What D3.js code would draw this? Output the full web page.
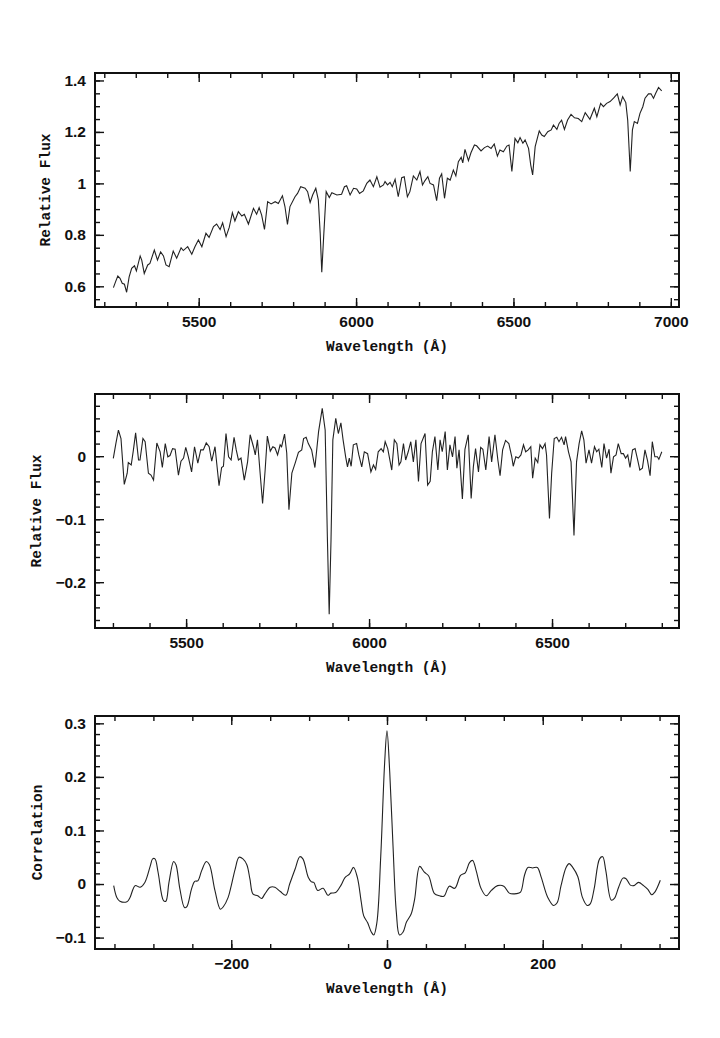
<!DOCTYPE html>
<html>
<head>
<meta charset="utf-8">
<script src="https://cdn.jsdelivr.net/npm/d3@7"></script>
<style>
body { margin: 0; background: #fff; }
.tick text { font-family: "Liberation Sans", Arial, sans-serif; font-weight: bold; font-size: 15.5px; fill: #111; }
.tick line { stroke: #111; stroke-width: 1.4; }
.title { font-family: "Liberation Mono", monospace; font-weight: bold; font-size: 14.5px; fill: #111; }
</style>
</head>
<body>
<svg id="chart" width="720" height="1038"></svg>
<script>
// top panel: observed spectrum
var wave1 = [5229,5236,5243,5250,5257,5264,5271,5279,5287,5296,5302,5314,5319,5327,5338,5345,5359,5369,5379,5388,
  5396,5406,5419,5430,5444,5451,5465,5478,5488,5499,5510,5523,5533,5547,5557,5568,5576,5587,5597,5607,
  5615,5626,5637,5645,5658,5674,5684,5692,5700,5709,5719,5730,5743,5753,5766,5774,5782,5790,5806,5814,
  5824,5838,5846,5854,5862,5872,5880,5886,5891,5897,5905,5915,5923,5939,5954,5963,5970,5981,5992,6002,
  6011,6023,6034,6044,6055,6066,6076,6087,6092,6100,6108,6115,6124,6134,6145,6153,6163,6171,6182,6193,
  6203,6211,6219,6228,6235,6246,6256,6265,6272,6281,6290,6299,6309,6317,6325,6334,6339,6346,6357,6365,
  6376,6383,6397,6408,6418,6429,6439,6449,6457,6468,6479,6486,6495,6505,6514,6521,6530,6537,6548,6555,
  6561,6569,6582,6590,6598,6609,6620,6627,6638,6645,6653,6662,6672,6683,6694,6706,6717,6728,6743,6757,
  6765,6777,6786,6796,6807,6818,6830,6839,6847,6857,6863,6871,6878,6884,6894,6902,6911,6918,6929,6937,
  6945,6952,6961,6971]
var flux1 = [0.595,0.618,0.64,0.631,0.612,0.608,0.577,0.637,0.67,0.68,0.66,0.718,0.702,0.65,0.683,0.689,0.741,0.702,0.734,0.718,
  0.683,0.676,0.737,0.709,0.75,0.739,0.754,0.725,0.754,0.78,0.754,0.806,0.79,0.832,0.842,0.821,0.847,0.793,0.829,0.886,
  0.854,0.89,0.873,0.88,0.842,0.903,0.88,0.906,0.877,0.821,0.929,0.92,0.929,0.922,0.952,0.91,0.841,0.91,0.948,0.961,
  0.987,0.981,0.968,0.926,0.955,0.981,0.936,0.806,0.655,0.793,0.968,0.945,0.964,0.955,0.958,0.987,0.991,0.955,0.981,0.978,
  0.961,0.971,1.0,1.013,0.987,1.026,0.985,0.994,1.007,0.994,1.004,0.987,1.016,0.948,1.022,1.026,0.948,0.968,1.029,1.013,
  1.046,0.994,1.011,1.026,1.0,0.994,0.933,1.02,1.037,0.942,1.02,1.013,1.052,1.029,1.084,1.101,1.08,1.132,1.088,1.119,
  1.149,1.146,1.126,1.139,1.145,1.136,1.153,1.106,1.13,1.123,1.145,1.149,1.046,1.175,1.158,1.178,1.156,1.169,1.136,1.071,
  1.033,1.143,1.204,1.188,1.182,1.201,1.208,1.227,1.21,1.233,1.246,1.21,1.246,1.268,1.255,1.252,1.24,1.275,1.249,1.292,
  1.259,1.311,1.298,1.311,1.318,1.331,1.348,1.305,1.337,1.314,1.246,1.046,1.208,1.24,1.233,1.272,1.298,1.331,1.348,1.348,
  1.331,1.35,1.373,1.36]

// middle panel: continuum-subtracted spectrum
var wave2 = [5301,5308,5315,5322,5331,5339,5342,5350,5356,5362,5370,5374,5382,5388,5397,5404,5411,5420,5429,5435,
  5443,5450,5456,5463,5470,5479,5486,5493,5499,5506,5515,5523,5532,5540,5547,5555,5563,5570,5579,5590,
  5597,5602,5609,5616,5623,5631,5637,5643,5650,5659,5668,5675,5684,5689,5695,5702,5709,5716,5722,5730,
  5737,5743,5750,5757,5761,5769,5775,5781,5789,5798,5807,5816,5821,5828,5834,5843,5852,5862,5872,5880,
  5886,5891,5896,5901,5909,5916,5923,5929,5936,5941,5946,5951,5957,5966,5972,5980,5987,5996,6005,6012,
  6018,6025,6033,6039,6044,6051,6062,6069,6076,6082,6087,6094,6100,6107,6114,6121,6128,6135,6142,6153,
  6160,6167,6173,6180,6188,6194,6200,6208,6214,6221,6228,6235,6240,6246,6255,6262,6271,6279,6285,6291,
  6299,6305,6311,6319,6328,6335,6344,6352,6358,6365,6373,6382,6390,6394,6401,6408,6415,6422,6428,6435,
  6442,6447,6454,6461,6467,6474,6481,6485,6493,6499,6506,6513,6519,6526,6533,6537,6545,6552,6560,6567,
  6574,6581,6587,6593,6601,6608,6616,6622,6628,6636,6642,6649,6656,6661,6668,6675,6681,6689,6695,6701,
  6707,6713,6720,6727,6734,6740,6747,6754,6761,6768,6774,6781,6788,6792,6800]
var flux2 = [-0.0035,0.020,0.0415,0.028,-0.0447,-0.027,-0.010,-0.014,0.010,0.037,-0.006,-0.006,0.028,0.023,-0.027,-0.030,-0.038,0.021,0.007,-0.018,
  0.020,-0.001,0.001,0.012,0.011,-0.030,-0.008,-0.003,0.014,-0.001,-0.025,0.015,-0.011,0.010,0.010,0.021,0.015,-0.008,0.015,-0.047,
  -0.018,-0.016,0.036,-0.001,-0.006,0.030,0.010,-0.006,-0.003,-0.038,-0.009,0.034,0.015,0.002,0.026,-0.025,-0.075,-0.022,0.032,0.008,
  0.015,0.013,0.002,0.018,0.015,0.035,0.005,-0.085,-0.027,-0.011,0.006,0.010,0.028,0.030,0.020,0.010,-0.018,0.039,0.076,0.0415,
  -0.128,-0.251,-0.133,0.026,0.060,0.036,0.053,0.026,-0.001,-0.017,-0.003,-0.016,0.018,0.020,0.002,-0.017,0.007,0.004,-0.025,-0.014,
  -0.021,0.007,0.012,0.007,0.023,0.012,-0.022,0.026,0.020,-0.014,-0.009,0.020,-0.006,0.007,0.023,-0.009,0.026,-0.040,0.020,0.036,
  -0.046,-0.040,0.007,0.031,-0.022,0.026,0.007,0.039,-0.022,0.018,-0.001,0.031,-0.019,0.010,-0.068,0.011,0.034,-0.067,-0.017,0.012,
  -0.025,0.014,0.011,-0.022,0.031,-0.009,0.034,-0.006,-0.031,0.010,0.025,0.020,-0.001,-0.016,-0.001,-0.003,0.002,0.018,0.007,0.010,
  0.015,-0.035,-0.003,-0.010,0.018,0.012,0.020,0.002,-0.099,-0.027,0.028,0.030,0.023,0.030,0.018,0.031,0.007,-0.009,-0.126,-0.009,
  0.020,0.040,0.026,-0.011,0.010,-0.011,0.015,0.007,0.011,-0.018,0.020,-0.003,0.011,-0.027,-0.001,0.002,0.020,0.004,0.004,-0.003,
  0.002,-0.018,0.010,0.012,-0.006,-0.022,-0.019,0.010,-0.007,-0.031,0.023,-0.001,-0.001,-0.005,0.007]

// bottom panel: cross-correlation
var lag3 = [-351,-347,-343,-334,-330,-323.5,-317,-311,-304,-301,-298,-294,-287,-284,-280,-274,-271,-266,-260,-257,
  -251,-247,-243,-238,-232,-228,-221,-214,-210,-204,-200,-195,-190,-185,-180,-176,-172,-166,-161,-157,
  -150,-144,-137,-130,-125,-118,-112,-108,-101,-97,-94,-89,-82,-76,-72,-66,-59,-54,-48,-43,
  -38,-33,-30,-25,-20,-17,-13,-8,-3,0,3.5,7.7,12,16,20.5,25,31,35.5,42,48,
  53.5,61,67.5,73,80,87,94.5,100.5,106,110,114.5,121,127.5,134,142,150,157,166,171.5,176.5,
  181,187,193,198,206.5,214,218.5,223.5,230,234,238.5,245,251,257,261,266,273,277,281,288,
  292,297.5,303,307,312.5,317,323,329.5,335,340,344,351]
var corr3 = [-0.003,-0.025,-0.032,-0.033,-0.025,-0.003,-0.006,0.003,0.034,0.047,0.047,0.022,-0.031,-0.032,0.003,0.042,0.036,-0.009,-0.044,-0.042,
  -0.009,0.005,0.006,0.025,0.042,0.036,-0.012,-0.047,-0.042,-0.025,-0.003,0.028,0.05,0.047,0.036,0.009,-0.019,-0.022,-0.027,-0.019,
  -0.006,-0.006,-0.014,-0.021,0.0,0.028,0.051,0.047,0.012,0.004,0.003,-0.012,-0.008,-0.021,-0.017,-0.016,-0.002,0.012,0.019,0.031,
  0.012,-0.034,-0.059,-0.072,-0.09,-0.095,-0.072,0.053,0.227,0.286,0.209,0.072,-0.053,-0.095,-0.09,-0.071,-0.056,-0.028,0.033,0.022,
  0.015,-0.018,-0.022,-0.023,-0.004,-0.008,0.016,0.021,0.04,0.044,0.025,-0.009,-0.022,-0.012,-0.003,-0.004,-0.017,-0.018,-0.015,0.016,
  0.031,0.03,0.031,0.013,-0.025,-0.04,-0.035,-0.003,0.031,0.038,0.031,0.014,-0.025,-0.04,-0.037,-0.009,0.047,0.051,0.025,-0.03,
  -0.027,-0.006,0.011,0.01,-0.002,-0.003,0.003,-0.003,-0.01,-0.02,-0.015,0.007]

// tick values and labels
var xMajor1 = [5500, 6000, 6500, 7000]
var yMajor1 = [0.6, 0.8, 1.0, 1.2, 1.4]
var xMajor2 = [5500, 6000, 6500]
var yMajor2 = [-0.2, -0.1, 0]
var xMajor3 = [-200, 0, 200]
var yMajor3 = [-0.1, 0, 0.1, 0.2, 0.3]

var svg = d3.select("#chart")
var fmt = d3.format("~g")

var panels = [
  {x: wave1, y: flux1, left: 95, right: 679, top: 73, bottom: 307,
   xDomain: [5170.5, 7026], yDomain: [0.5196, 1.429],
   xMajor: xMajor1, xMinor: d3.range(5200, 7001, 100),
   yMajor: yMajor1, yMinor: d3.range(0.55, 1.41, 0.05),
   xTitle: "Wavelength (Å)", yTitle: "Relative Flux", yTitleX: 50, curve: d3.curveLinear},
  {x: wave2, y: flux2, left: 95, right: 679, top: 394, bottom: 628,
   xDomain: [5251, 6847], yDomain: [-0.2727, 0.0987],
   xMajor: xMajor2, xMinor: d3.range(5300, 6801, 100),
   yMajor: yMajor2, yMinor: d3.range(-0.26, 0.09, 0.02),
   xTitle: "Wavelength (Å)", yTitle: "Relative Flux", yTitleX: 41, curve: d3.curveLinear},
  {x: lag3, y: corr3, left: 95, right: 679, top: 716, bottom: 949,
   xDomain: [-375, 375], yDomain: [-0.1213, 0.3137],
   xMajor: xMajor3, xMinor: d3.range(-350, 351, 50),
   yMajor: yMajor3, yMinor: d3.range(-0.1, 0.31, 0.02),
   xTitle: "Wavelength (Å)", yTitle: "Correlation", yTitleX: 42, curve: d3.curveCatmullRom.alpha(0.5)}
]

panels.forEach(function(p){
  var g = svg.append("g")
  var x = d3.scaleLinear().domain(p.xDomain).range([p.left, p.right])
  var y = d3.scaleLinear().domain(p.yDomain).range([p.bottom, p.top])

  // minor ticks on all four sides
  g.append("g").attr("transform", "translate(0," + p.bottom + ")")
    .call(d3.axisBottom(x).tickValues(p.xMinor).tickSize(-5).tickFormat(""))
  g.append("g").attr("transform", "translate(0," + p.top + ")")
    .call(d3.axisTop(x).tickValues(p.xMinor).tickSize(-5).tickFormat(""))
  g.append("g").attr("transform", "translate(" + p.left + ",0)")
    .call(d3.axisLeft(y).tickValues(p.yMinor).tickSize(-5).tickFormat(""))
  g.append("g").attr("transform", "translate(" + p.right + ",0)")
    .call(d3.axisRight(y).tickValues(p.yMinor).tickSize(-5).tickFormat(""))

  // major ticks, labels only bottom and left
  g.append("g").attr("transform", "translate(0," + p.bottom + ")")
    .call(d3.axisBottom(x).tickValues(p.xMajor).tickSize(-9).tickPadding(9).tickFormat(fmt))
  g.append("g").attr("transform", "translate(0," + p.top + ")")
    .call(d3.axisTop(x).tickValues(p.xMajor).tickSize(-9).tickFormat(""))
  g.append("g").attr("transform", "translate(" + p.left + ",0)")
    .call(d3.axisLeft(y).tickValues(p.yMajor).tickSize(-9).tickPadding(9).tickFormat(fmt))
  g.append("g").attr("transform", "translate(" + p.right + ",0)")
    .call(d3.axisRight(y).tickValues(p.yMajor).tickSize(-9).tickFormat(""))

  g.selectAll(".domain").remove()

  g.append("rect")
    .attr("x", p.left).attr("y", p.top)
    .attr("width", p.right - p.left).attr("height", p.bottom - p.top)
    .style("fill", "none").style("stroke", "#111").style("stroke-width", 2)

  var line = d3.line().curve(p.curve).x(function(d, i){ return x(p.x[i]) }).y(function(d){ return y(d) })
  g.append("path").datum(p.y).attr("d", line)
    .style("fill", "none").style("stroke", "#222").style("stroke-width", 1.1)

  g.append("text").attr("class", "title")
    .attr("x", (p.left + p.right) / 2).attr("y", p.bottom + 44)
    .attr("text-anchor", "middle").text(p.xTitle)
  g.append("text").attr("class", "title")
    .attr("transform", "translate(" + p.yTitleX + "," + (p.top + p.bottom) / 2 + ") rotate(-90)")
    .attr("text-anchor", "middle").text(p.yTitle)
})
</script>
</body>
</html>
